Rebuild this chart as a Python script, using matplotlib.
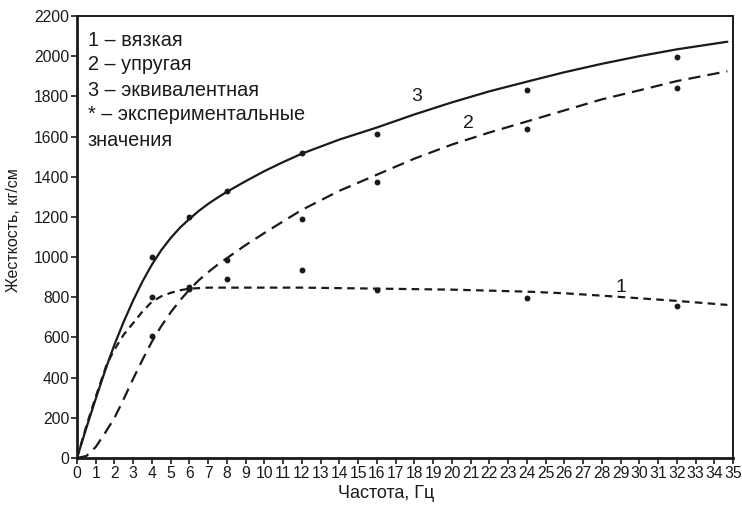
#!/usr/bin/env python3
"""Жесткость vs частота: вязкая / упругая / эквивалентная + эксперимент."""
import matplotlib
matplotlib.use("Agg")
import matplotlib.pyplot as plt

plt.rcParams["font.family"] = ["Liberation Sans", "DejaVu Sans"]

# curve 3 - эквивалентная (solid)
x3 = [0, 0.5, 1, 1.5, 2, 2.5, 3, 3.5, 4, 4.5, 5, 5.5, 6, 6.5, 7, 7.5, 8, 9, 10, 11, 12, 14, 16, 18,
      20, 22, 24, 26, 28, 30, 32, 34.7]
y3 = [0, 150, 295, 435, 565, 680, 785, 880, 963, 1035, 1095, 1147, 1190, 1230, 1265, 1296, 1325,
      1378, 1428, 1473, 1515, 1585, 1645, 1710, 1770, 1825, 1873, 1920, 1962, 2000, 2034, 2072]
# curve 2 - упругая (long dashes)
x2 = [0, 0.5, 1, 1.5, 2, 2.5, 3, 3.5, 4, 4.5, 5, 5.5, 6, 6.5, 7, 7.5, 8, 9, 10, 11, 12, 14, 16, 18,
      20, 22, 24, 26, 28, 30, 32, 34.7]
y2 = [0, 10, 55, 125, 200, 295, 395, 490, 580, 657, 725, 785, 838, 885, 925, 962, 995, 1060,
      1120, 1178, 1235, 1330, 1410, 1490, 1560, 1620, 1675, 1730, 1785, 1830, 1876, 1925]
# curve 1 - вязкая (short dashes)
x1 = [0, 0.5, 1, 1.6, 2, 2.5, 3, 3.5, 4, 4.5, 5, 5.5, 6, 7, 8, 12, 16, 20, 24, 26, 28, 30, 32, 34.7]
y1 = [0, 160, 305, 470, 540, 615, 672, 730, 778, 805, 822, 835, 843, 848, 848, 848, 843, 838, 828,
      820, 808, 795, 782, 762]

# experimental points
ex = [4, 4, 4, 6, 6, 6, 8, 8, 8, 12, 12, 12, 16, 16, 16, 24, 24, 24, 32, 32, 32]
ey = [1000, 800, 605, 1200, 850, 840, 1330, 985, 890, 1518, 1190, 935, 1612, 1372, 835,
      1833, 1640, 795, 1995, 1842, 758]

legend_lines = ["1 – вязкая", "2 – упругая", "3 – эквивалентная", "* – экспериментальные", "значения"]

ink = "#1a1a1a"

fig = plt.figure(figsize=(7.42, 5.09), dpi=100)
ax = fig.add_axes([77 / 742, 1 - 458 / 509, (733 - 77) / 742, (458 - 16) / 509])

ax.plot(x3, y3, color=ink, lw=1.6, solid_capstyle="round", solid_joinstyle="round")
ax.plot(x2, y2, color=ink, lw=1.6, dashes=(5.5, 3.2))
ax.plot(x1, y1, color=ink, lw=1.6, dashes=(3.4, 2.4))
ax.scatter(ex, ey, s=18, color=ink, zorder=3, linewidths=0)

ax.text(18.1, 1800, "3", fontsize=14, ha="center", va="center", color=ink)
ax.text(20.9, 1665, "2", fontsize=14, ha="center", va="center", color=ink)
ax.text(29.0, 850, "1", fontsize=14, ha="center", va="center", color=ink)

for i, s in enumerate(legend_lines):
    fig.text(88 / 742, 1 - (40 + 25 * i) / 509, s, fontsize=14.3, color=ink, va="center", ha="left")

ax.set_xlim(0, 35)
ax.set_ylim(0, 2200)
ax.set_xticks(range(0, 36))
ax.set_yticks(range(0, 2201, 200))
ax.tick_params(axis="both", direction="out", length=4, width=1.2, colors=ink, labelsize=11.3, pad=1.5)
for side in ["left", "bottom"]:
    ax.spines[side].set_linewidth(2.0)
for side in ["top", "right"]:
    ax.spines[side].set_linewidth(1.4)
for sp in ax.spines.values():
    sp.set_color(ink)

fig.text(386 / 742, 1 - 494 / 509, "Частота, Гц", fontsize=13, ha="center", va="center", color=ink)
fig.text(14 / 742, 1 - 230 / 509, "Жесткость, кг/см", fontsize=11.5, rotation=90,
         ha="center", va="center", color=ink)

fig.savefig("out.png", dpi=100)
